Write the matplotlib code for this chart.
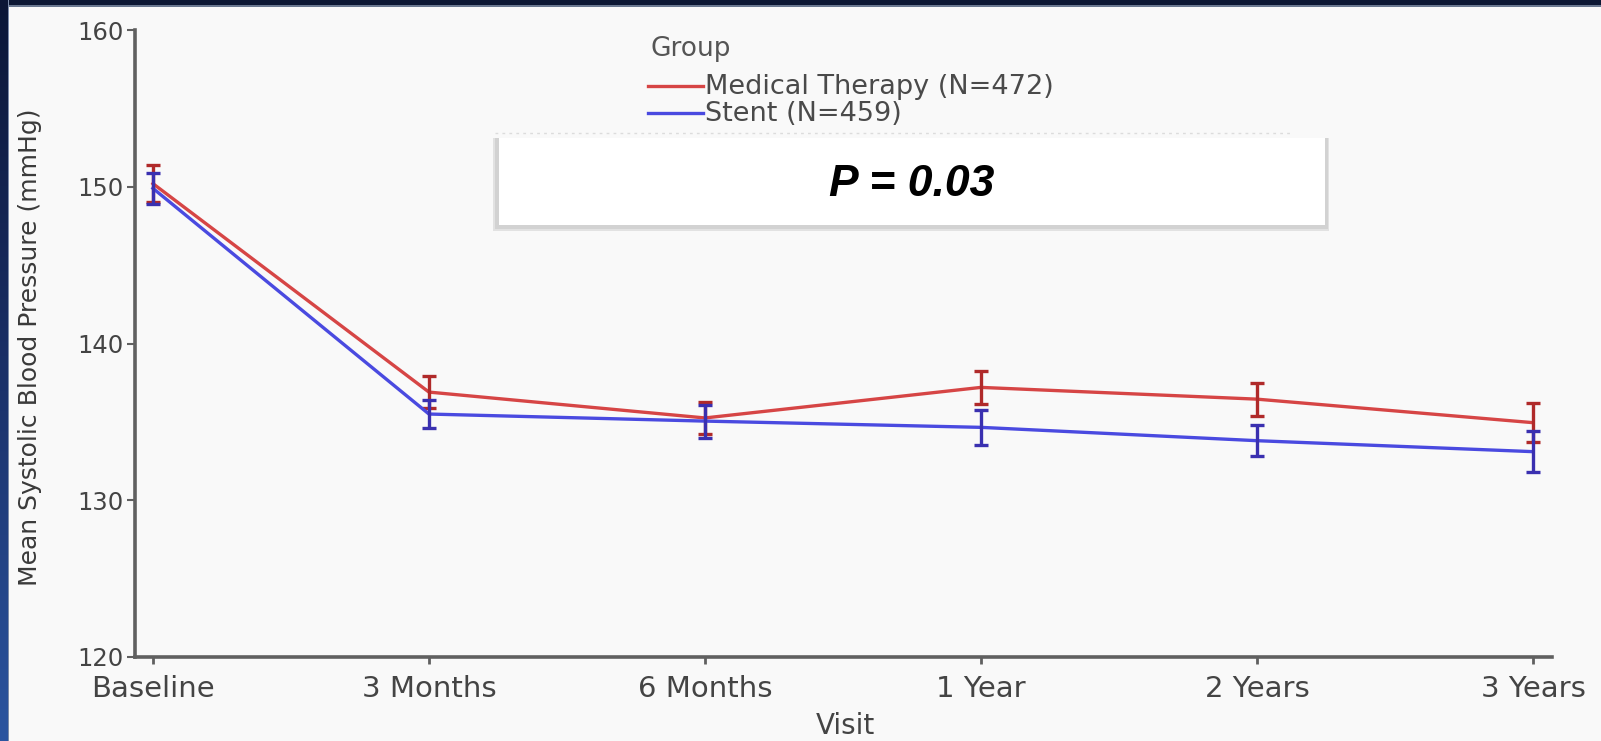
import matplotlib
matplotlib.use("Agg")
import matplotlib.pyplot as plt
import numpy as np
from matplotlib.lines import Line2D
from matplotlib.patches import Rectangle
from matplotlib.colors import LinearSegmentedColormap

# ---- data ----
visits = ["Baseline", "3 Months", "6 Months", "1 Year", "2 Years", "3 Years"]
medical = [150.2, 136.9, 135.25, 137.2, 136.45, 134.95]
medical_err = [1.2, 1.0, 1.0, 1.05, 1.05, 1.25]
stent = [149.9, 135.5, 135.05, 134.65, 133.8, 133.1]
stent_err = [1.0, 0.9, 1.05, 1.1, 1.0, 1.3]
labels = ["Medical Therapy (N=472)", "Stent (N=459)"]
legend_title = "Group"
p_text = "P = 0.03"
yticks = [120, 130, 140, 150, 160]

W, H = 1601, 741
fig = plt.figure(figsize=(W / 100, H / 100), dpi=100)
bg = "#f9f9f9"
fig.patch.set_facecolor(bg)

def fx(px):
    return px / W

def fy(py):
    return 1 - py / H

# axes placement (pixels measured from reference)
L, R, T, B = 135, 1552, 30, 657
ax = fig.add_axes([fx(L), fy(B), fx(R - L), (B - T) / H])
ax.set_facecolor(bg)

x = np.arange(len(visits))
red_line, red_err = "#d64545", "#b02a2a"
blue_line, blue_err = "#4a4ae0", "#3a30b0"

ax.plot(x, medical, color=red_line, lw=2.4, zorder=3)
ax.errorbar(x, medical, yerr=medical_err, fmt="none", ecolor=red_err,
            elinewidth=2.4, capsize=5, capthick=2.4, zorder=4)
ax.plot(x, stent, color=blue_line, lw=2.4, zorder=5)
ax.errorbar(x, stent, yerr=stent_err, fmt="none", ecolor=blue_err,
            elinewidth=2.4, capsize=5, capthick=2.4, zorder=6)

ax.set_xlim(-0.065, 5.069)
ax.set_ylim(120, 160)
ax.set_xticks(x)
ax.set_xticklabels(visits)
ax.set_yticks(yticks)
for s in ["top", "right"]:
    ax.spines[s].set_visible(False)
for s in ["left", "bottom"]:
    ax.spines[s].set_color("#606060")
    ax.spines[s].set_linewidth(2.6)
ax.tick_params(axis="x", length=5, width=2, color="#606060", pad=8,
               labelsize=21, labelcolor="#444444")
ax.tick_params(axis="y", length=6, width=1.5, color="#606060", pad=2,
               labelsize=17.5, labelcolor="#444444")
fig.text(fx(845), fy(726), "Visit", fontsize=20, color="#444444",
         ha="center", va="center")
fig.text(fx(30), fy(347), "Mean Systolic Blood Pressure (mmHg)", fontsize=18,
         color="#3a3a3a", rotation=90, ha="center", va="center")

# ---- legend (manual) ----
fig.text(fx(650), fy(49), legend_title, fontsize=19, color="#555555",
         ha="left", va="center")
for yy, col, lab in [(86, red_line, labels[0]), (113, blue_line, labels[1])]:
    fig.add_artist(Line2D([fx(648), fx(703)], [fy(yy), fy(yy)], color=col,
                          lw=2.4, transform=fig.transFigure))
    fig.text(fx(705), fy(yy + 1), lab, fontsize=19.5, color="#4a4a4a",
             ha="left", va="center")

# faint dotted artifact line above the box
fig.add_artist(Line2D([fx(495), fx(1290)], [fy(133), fy(133)], color="#dcdcdc",
                      lw=1.0, ls=(0, (2, 3)), transform=fig.transFigure))

# ---- P value box with shadow ----
fig.add_artist(Rectangle((fx(493), fy(231)), fx(1329 - 493), (231 - 138) / H,
                         transform=fig.transFigure, facecolor="#e2e2e2",
                         edgecolor="none", zorder=10))
fig.add_artist(Rectangle((fx(495), fy(229)), fx(1328 - 495), (229 - 138) / H,
                         transform=fig.transFigure, facecolor="#d2d2d2",
                         edgecolor="none", zorder=10))
fig.add_artist(Rectangle((fx(499), fy(225)), fx(1325 - 499), (225 - 138) / H,
                         transform=fig.transFigure, facecolor="white",
                         edgecolor="none", zorder=11))
fig.text(fx(912), fy(185), p_text, fontsize=32, fontweight="bold",
         fontstyle="italic", family=["Liberation Sans", "DejaVu Sans"],
         color="black", ha="center", va="center", zorder=12)

# ---- dark frame at top and left ----
fig.add_artist(Rectangle((0, fy(5)), 1, 5 / H, transform=fig.transFigure,
                         facecolor="#0c1733", edgecolor="none", zorder=20))
fig.add_artist(Rectangle((0, fy(7)), 1, 2 / H, transform=fig.transFigure,
                         facecolor="#6a7890", edgecolor="none", zorder=20))
gax = fig.add_axes([0, 0, fx(7), 1], zorder=21)
cmap = LinearSegmentedColormap.from_list("edge", ["#0b1636", "#1a3068", "#2c55a0"])
gax.imshow(np.linspace(0, 1, 256).reshape(-1, 1), aspect="auto", cmap=cmap)
gax.axis("off")
fig.add_artist(Rectangle((fx(7), 0), fx(1.5), 1, transform=fig.transFigure,
                         facecolor="#7a8aa8", edgecolor="none", zorder=20))

fig.savefig("out.png", dpi=100, facecolor=fig.get_facecolor())
